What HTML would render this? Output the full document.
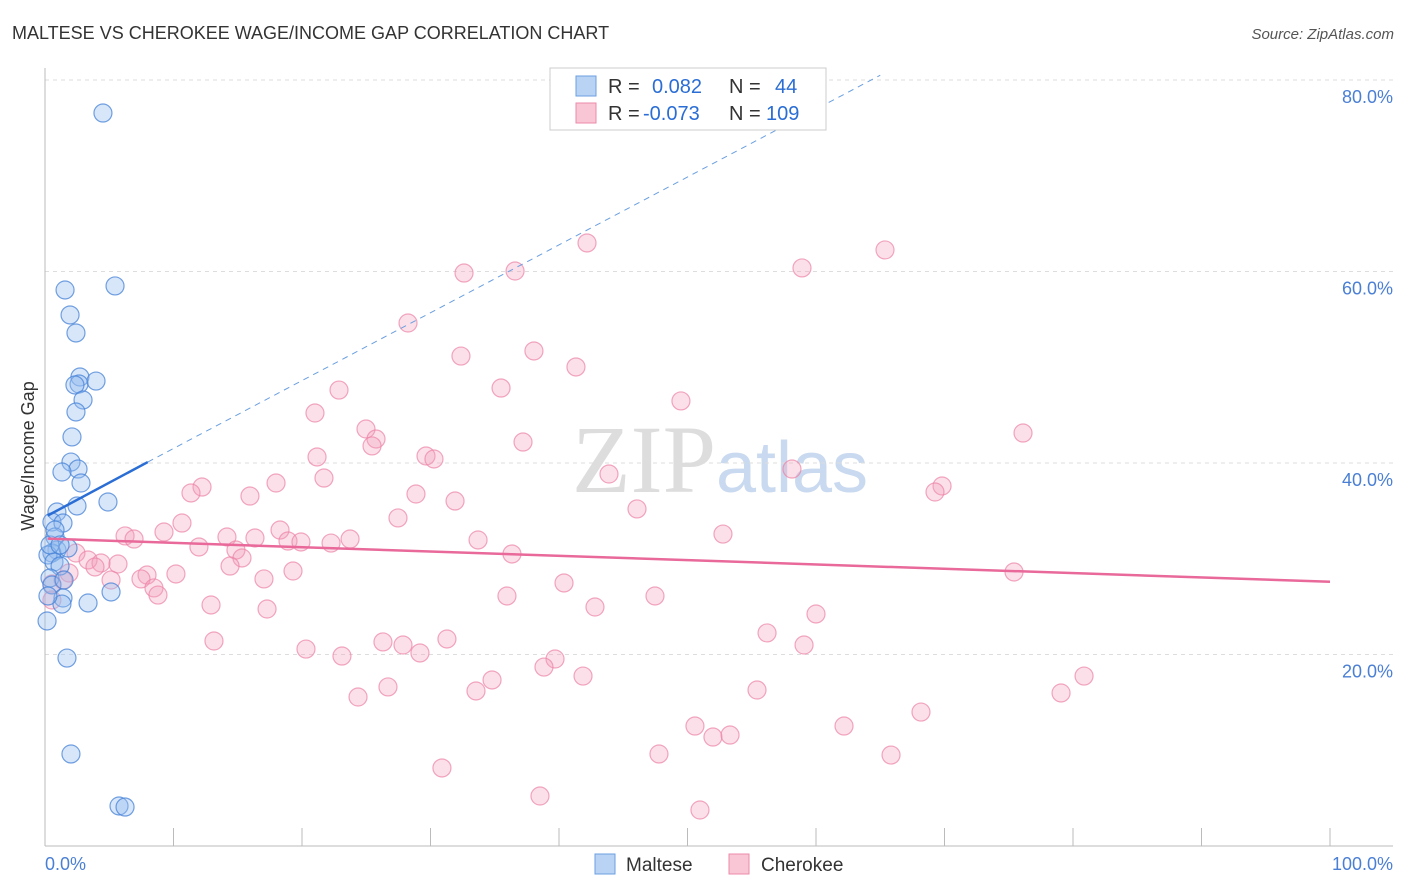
<!DOCTYPE html>
<html><head><meta charset="utf-8"><style>
body{margin:0;background:#fff;font-family:"Liberation Sans",sans-serif}
svg{display:block}
</style></head><body>
<svg id="c" width="1406" height="892" xmlns="http://www.w3.org/2000/svg">
<text x="12" y="39" font-size="18" fill="#333">MALTESE VS CHEROKEE WAGE/INCOME GAP CORRELATION CHART</text>
<text x="1394" y="39" font-size="15" fill="#555" font-style="italic" text-anchor="end">Source: ZipAtlas.com</text>
<text x="720" y="492" font-size="96" fill="#ddd" text-anchor="middle" font-family="Liberation Serif,serif">ZIP<tspan fill="#c9d9ef" font-family="Liberation Sans,sans-serif" font-size="72">atlas</tspan></text>
<g id="grid"></g><g id="pts"></g><g id="lines"></g>
<text transform="translate(34,456) rotate(-90)" font-size="18" fill="#333" text-anchor="middle">Wage/Income Gap</text>
<text x="45" y="870" font-size="18" fill="#4a7fd4">0.0%</text>
<text x="1393" y="870" font-size="18" fill="#4a7fd4" text-anchor="end">100.0%</text>
<g>
<rect x="550" y="68" width="276" height="62" fill="#fff" stroke="#ccc"/>
<rect x="576" y="76" width="20" height="20" fill="#b9d3f5" stroke="#6a9fe0"/>
<rect x="576" y="103" width="20" height="20" fill="#f9c6d6" stroke="#ec8aa8"/>
<text x="608" y="93" font-size="20" fill="#333">R = <tspan fill="#2a6dd4" x="652">0.082</tspan><tspan x="729">N = </tspan><tspan fill="#2a6dd4" x="775">44</tspan></text>
<text x="608" y="120" font-size="20" fill="#333">R = <tspan fill="#2a6dd4" x="643">-0.073</tspan><tspan x="729">N = </tspan><tspan fill="#2a6dd4" x="766">109</tspan></text>
</g>
<g>
<rect x="595" y="854" width="20" height="20" fill="#b9d3f5" stroke="#6a9fe0"/>
<text x="626" y="871" font-size="19" fill="#333">Maltese</text>
<rect x="729" y="854" width="20" height="20" fill="#f9c6d6" stroke="#ec8aa8"/>
<text x="761" y="871" font-size="19" fill="#333">Cherokee</text>
</g>
</svg>
<script>
const yTicks=[20,40,60,80];
const xTickCount=10;
const maltesePx=[[103,113],[115,286],[65,290],[70,315],[76,333],[80,377],[79,384],[75,385],[96,381],[83,400],[76,412],[72,437],[71,462],[78,469],[62,472],[81,483],[108,502],[77,506],[57,512],[52,522],[63,523],[55,537],[57,550],[52,553],[68,548],[48,555],[54,562],[60,566],[50,578],[52,585],[64,580],[63,598],[62,604],[88,603],[111,592],[47,621],[67,658],[71,754],[119,806],[125,807],[50,545],[55,530],[60,545],[48,596]];
const cherokeePx=[[587,243],[885,250],[464,273],[515,271],[802,268],[408,323],[461,356],[534,351],[576,367],[501,388],[339,390],[681,401],[315,413],[366,429],[376,439],[372,446],[523,442],[1023,433],[317,457],[426,456],[434,459],[792,469],[609,474],[324,478],[276,483],[202,487],[191,493],[416,494],[250,496],[455,501],[942,486],[935,492],[637,509],[398,518],[182,523],[164,532],[280,530],[125,536],[134,539],[227,537],[255,538],[288,541],[301,542],[331,543],[350,539],[478,540],[723,534],[199,547],[236,550],[242,558],[76,553],[88,560],[101,563],[118,564],[512,554],[230,566],[293,571],[1014,572],[95,567],[69,573],[147,575],[176,574],[141,579],[264,579],[63,580],[111,580],[52,584],[154,588],[158,595],[564,583],[655,596],[507,596],[211,605],[267,609],[595,607],[816,614],[767,633],[214,641],[383,642],[403,645],[447,639],[420,653],[306,649],[342,656],[804,645],[555,659],[544,667],[583,676],[492,680],[476,691],[388,687],[358,697],[757,690],[1084,676],[1061,693],[921,712],[695,726],[713,737],[730,735],[844,726],[659,754],[891,755],[442,768],[540,796],[700,810],[52,600]];
const malteseX=maltesePx.map(p=>+((p[0]-45)/12.85).toFixed(2));
const malteseY=maltesePx.map(p=>+((846-p[1])/9.575).toFixed(2));
const cherokeeX=cherokeePx.map(p=>+((p[0]-45)/12.85).toFixed(2));
const cherokeeY=cherokeePx.map(p=>+((846-p[1])/9.575).toFixed(2));
const malteseTrend=[[0.2,34.5],[8,40.1],[65,80.5]];
const cherokeeTrend=[[0.2,32.1],[100,27.6]];
const X=v=>45+v*12.85, Y=v=>846-v*9.575;
const NS="http://www.w3.org/2000/svg";
function mk(t,a,p){const e=document.createElementNS(NS,t);for(const k in a)e.setAttribute(k,a[k]);p.appendChild(e);return e;}
const g=document.getElementById('grid');
yTicks.forEach(t=>{
 const l=mk('line',{x1:45,x2:1393,y1:Y(t),y2:Y(t),stroke:'#ddd','stroke-dasharray':'4,4'},g);
 
 
 const tx=mk('text',{x:1393,y:Y(t)+23,'font-size':18,fill:'#4a7fd4','text-anchor':'end'},g);
 tx.textContent=t.toFixed(1)+'%';
 
 
});
const ax=mk('line',{x1:45,x2:1393,y1:846,y2:846,stroke:'#bbb'},g);


const ay=mk('line',{x1:45,x2:45,y1:68,y2:846,stroke:'#bbb'},g);


for(let i=1;i<=xTickCount;i++){
 const t=mk('line',{x1:X(i*10),x2:X(i*10),y1:828,y2:846,stroke:'#bbb'},g);
 
 
}
const P=document.getElementById('pts');
cherokeeX.forEach((x,i)=>{
 const c=mk('circle',{cx:X(x),cy:Y(cherokeeY[i]),r:9,fill:'rgba(244,160,188,0.32)',stroke:'rgba(236,130,165,0.7)','stroke-width':1.2},P);
 
 
});
malteseX.forEach((x,i)=>{
 const c=mk('circle',{cx:X(x),cy:Y(malteseY[i]),r:9,fill:'rgba(150,190,240,0.38)',stroke:'rgba(70,130,215,0.75)','stroke-width':1.2},P);
 
 
});
const L=document.getElementById('lines');
const b1=mk('line',{x1:X(malteseTrend[0][0]),y1:Y(malteseTrend[0][1]),x2:X(malteseTrend[1][0]),y2:Y(malteseTrend[1][1]),stroke:'#2a6dd4','stroke-width':2.5},L);


const b2=mk('line',{x1:X(malteseTrend[1][0]),y1:Y(malteseTrend[1][1]),x2:X(malteseTrend[2][0]),y2:Y(malteseTrend[2][1]),stroke:'#6a9fe0','stroke-width':1,'stroke-dasharray':'6,5'},L);


const p1=mk('line',{x1:X(cherokeeTrend[0][0]),y1:Y(cherokeeTrend[0][1]),x2:X(cherokeeTrend[1][0]),y2:Y(cherokeeTrend[1][1]),stroke:'#e8699a','stroke-width':2.5},L);


</script>
</body></html>
